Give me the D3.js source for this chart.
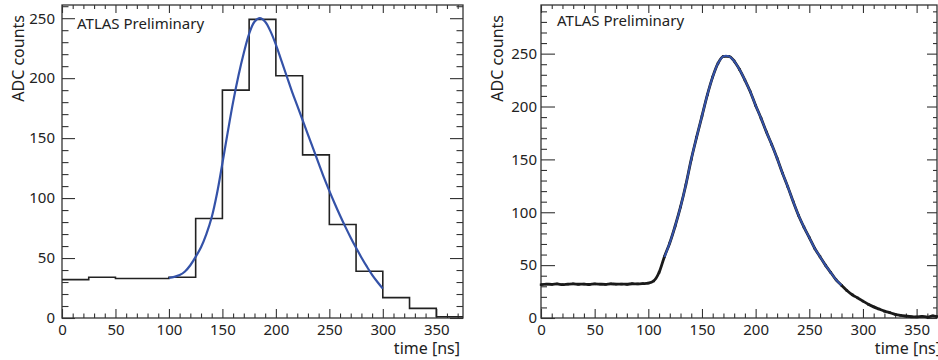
<!DOCTYPE html>
<html><head><meta charset="utf-8">
<script src="https://cdn.jsdelivr.net/npm/d3@7"></script>
<style>
body{margin:0;background:#fff}
svg{display:block}
text{font-family:"Noto Sans",sans-serif;fill:#222}
</style>
</head><body>
<svg id="c" width="938" height="360"></svg>
<script>
// ---- data: left panel (25 ns samples histogram + fit) ----
const histEdges = [0,25,50,75,100,125,150,175,200,225,250,275,300,325,350,375];
const histCounts = [32,34,33,33,34,83,190,249,202,136,78,39,17,8,1];
const fitLeftT = [100,105,110,115,120,125,130,135,140,145,150,155,160,165,170,175,180,185,190,195,200,205,210,215,220,225,230,235,240,245,250,255,260,265,270,275,280,285,290,295,300];
const fitLeftV = [33.5,34.3,35.8,38.8,44,51,59,70,84,104,129,155,180,202,221,237,247,250,247,239,228,215,202,189,177,165,153,141,129,117,106,95.5,85.5,76,67,58.5,50.5,43,36,30,24.5];

// ---- data: right panel (fine-sampled pulse + fit) ----
const pulseT = [0,5,10,15,20,25,30,35,40,45,50,55,60,65,70,75,80,85,90,95,100,105,110,115,120,125,130,135,140,145,150,155,160,165,170,175,180,185,190,195,200,205,210,215,220,225,230,235,240,245,250,255,260,265,270,275,280,285,290,295,300,305,310,315,320,325,330,335,340,345,350,355,360,365,369];
const pulseV = [31.5,32,31.8,32.2,31.6,32,32.3,31.9,32.1,31.7,32.2,32,31.8,32.3,32,32.1,31.9,32.4,32.2,32.5,33,35,43,58,71,87,105,126,150,171,191,211,228,241,247.5,247.5,243,235,225,214,201,189,176,164,151,137,124,110,97,86,76,66,58,50,43,36,31,26,22,19,16,13,10.5,8.5,6.5,5,3.5,2.5,1.8,1.2,1,1.6,0.8,2,1.4];
const fitRightT = [115,120,125,130,135,140,145,150,155,160,165,170,175,180,185,190,195,200,205,210,215,220,225,230,235,240,245,250,255,260,265,270,275,280];
const fitRightV = [57.5,71,87,105,126,150,171,191,211,228,241,247.5,247.5,243,235,225,214,201,189,176,164,151,137,124,110,97,86,76,66,58,50,43,36,31];

const panelTitle = "ATLAS Preliminary";
const yTitle = "ADC counts";
const xTitle = "time [ns]";

const svg = d3.select("#c");
const BLUE = "#3452a8", INK = "#222", FRAME = "#333";

function panel(cfg){
  const g = svg.append("g");
  const x = d3.scaleLinear().domain([0,cfg.xmax]).range([cfg.x0,cfg.x1]);
  const y = d3.scaleLinear().domain([0,cfg.ymax]).range([cfg.y1,cfg.y0]);
  const xMinor = d3.range(0,cfg.xmax+0.01,10).filter(v=>v%50!==0);
  const xMajor = d3.range(0,cfg.xmax+0.01,50);
  const yMinor = d3.range(0,cfg.ymax+0.01,10).filter(v=>v%50!==0);
  const yMajor = d3.range(0,cfg.ymax+0.01,50);

  function ax(axis, tr, vals, size, labels, pad){
    const a = axis.tickValues(vals).tickSize(-size).tickPadding(pad||0);
    if(!labels) a.tickFormat("");
    const s = g.append("g").attr("transform",tr).call(a);
    s.select(".domain").remove();
    s.selectAll("line").attr("stroke",FRAME).attr("stroke-width",1.1);
    s.selectAll("text").attr("font-size",15).attr("font-family","Noto Sans").attr("fill",INK);
    return s;
  }
  ax(d3.axisBottom(x), `translate(0,${cfg.y1})`, xMinor, cfg.bMin, false);
  ax(d3.axisBottom(x), `translate(0,${cfg.y1})`, xMajor, cfg.bMaj, true, 6);
  ax(d3.axisTop(x), `translate(0,${cfg.y0})`, xMinor, cfg.tMin, false);
  ax(d3.axisTop(x), `translate(0,${cfg.y0})`, xMajor, cfg.tMaj, false);
  ax(d3.axisLeft(y), `translate(${cfg.x0},0)`, yMinor, cfg.lMin, false);
  ax(d3.axisLeft(y), `translate(${cfg.x0},0)`, yMajor, cfg.lMaj, true, cfg.yPad);
  ax(d3.axisRight(y), `translate(${cfg.x1},0)`, yMinor, cfg.rMin, false);
  ax(d3.axisRight(y), `translate(${cfg.x1},0)`, yMajor, cfg.rMaj, false);

  g.append("rect").attr("x",cfg.x0).attr("y",cfg.y0)
    .attr("width",cfg.x1-cfg.x0).attr("height",cfg.y1-cfg.y0)
    .attr("fill","none").attr("stroke",FRAME).attr("stroke-width",1.3);

  g.append("text").attr("x",cfg.x0+cfg.tx).attr("y",cfg.ty)
    .attr("font-size",15).text(panelTitle);
  g.append("text").attr("transform",`translate(${cfg.yTx},${cfg.yTy}) rotate(-90)`)
    .attr("text-anchor","end").attr("font-size",16).text(yTitle);
  g.append("text").attr("x",cfg.xTx).attr("y",354)
    .attr("text-anchor","end").attr("font-size",16).text(xTitle);
  return {g,x,y};
}

// ---- left panel ----
const L = panel({x0:62,x1:463,y0:5,y1:318,xmax:375,ymax:261,
  bMin:4.5,bMaj:9,tMin:4,tMaj:8,lMin:6.5,lMaj:13,rMin:6.5,rMaj:13,yPad:7,
  tx:15,ty:29,yTx:24,yTy:15,xTx:460});
let hp = "";
histCounts.forEach((c,i)=>{
  const xa = L.x(histEdges[i]), xb = L.x(histEdges[i+1]), yy = L.y(c);
  hp += (i===0 ? `M${xa},${yy}` : `V${yy}`) + `H${xb}`;
});
L.g.append("path").attr("d",hp).attr("fill","none").attr("stroke",INK).attr("stroke-width",1.6);
L.g.append("path").datum(d3.zip(fitLeftT,fitLeftV))
  .attr("d",d3.line().x(d=>L.x(d[0])).y(d=>L.y(d[1])).curve(d3.curveCatmullRom.alpha(0.5)))
  .attr("fill","none").attr("stroke",BLUE).attr("stroke-width",2.2);

// ---- right panel ----
const R = panel({x0:541,x1:937,y0:5,y1:318,xmax:369,ymax:296,
  bMin:4.5,bMaj:9,tMin:4,tMaj:8,lMin:6,lMaj:14,rMin:4,rMaj:10,yPad:4,
  tx:16,ty:26,yTx:503,yTy:15,xTx:941});
const pts = d3.zip(pulseT,pulseV);
R.g.append("path").datum(pts)
  .attr("d",d3.line().x(d=>R.x(d[0])).y(d=>R.y(d[1])).curve(d3.curveMonotoneX))
  .attr("fill","none").attr("stroke","#1a1a1a").attr("stroke-width",2.8);
R.g.selectAll("rect.pt").data(pts).enter().append("rect").attr("class","pt")
  .attr("x",d=>R.x(d[0])-1.2).attr("y",d=>R.y(d[1])-1.2)
  .attr("width",2.4).attr("height",2.4).attr("fill","#1a1a1a");
R.g.append("path").datum(d3.zip(fitRightT,fitRightV))
  .attr("d",d3.line().x(d=>R.x(d[0])).y(d=>R.y(d[1])).curve(d3.curveCatmullRom.alpha(0.5)))
  .attr("fill","none").attr("stroke",BLUE).attr("stroke-width",2);
</script>
</body></html>
